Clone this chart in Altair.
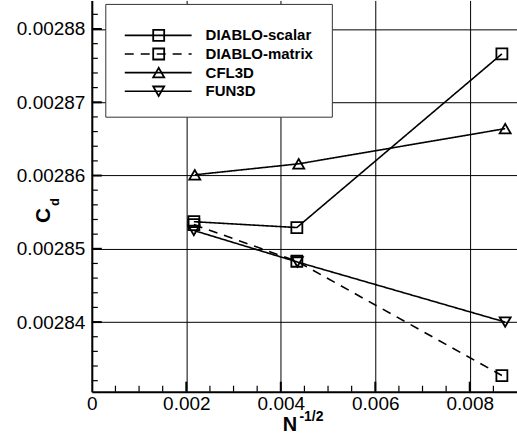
import altair as alt
import pandas as pd

# ---------------- data ----------------
series = ["DIABLO-scalar", "DIABLO-matrix", "CFL3D", "FUN3D"]
legend_row = [0, 1, 2, 3]

x_scalar = [0.00216, 0.00434, 0.00868]
y_scalar = [0.0028537, 0.0028529, 0.0028766]

x_matrix = [0.00216, 0.00434, 0.00868]
y_matrix = [0.0028533, 0.0028483, 0.0028327]

x_cfl3d = [0.00218, 0.00438, 0.00875]
y_cfl3d = [0.0028601, 0.0028616, 0.0028664]

x_fun3d = [0.00216, 0.00435, 0.00875]
y_fun3d = [0.0028525, 0.0028482, 0.0028400]

x_major = [0.0, 0.002, 0.004, 0.006, 0.008]
y_major = [0.00284, 0.00285, 0.00286, 0.00287, 0.00288]
x_minor = [0.0005, 0.001, 0.0015, 0.0025, 0.003, 0.0035, 0.0045, 0.005, 0.0055,
           0.0065, 0.007, 0.0075, 0.0085]
y_minor = [0.002832, 0.002834, 0.002836, 0.002838,
           0.002842, 0.002844, 0.002846, 0.002848,
           0.002852, 0.002854, 0.002856, 0.002858,
           0.002862, 0.002864, 0.002866, 0.002868,
           0.002872, 0.002874, 0.002876, 0.002878,
           0.002882]

rows = []
for name, xs, ys in [("DIABLO-scalar", x_scalar, y_scalar),
                     ("DIABLO-matrix", x_matrix, y_matrix),
                     ("CFL3D", x_cfl3d, y_cfl3d),
                     ("FUN3D", x_fun3d, y_fun3d)]:
    for i, (xv, yv) in enumerate(zip(xs, ys)):
        rows.append({"series": name, "x": xv, "y": yv, "i": i})
df = pd.DataFrame(rows)

# ---------------- scales / axes ----------------
FONT = "Liberation Sans"
W, H = 426, 392
xs_ = alt.Scale(domain=[0, 0.009], nice=False, zero=False)
ys_ = alt.Scale(domain=[0.0028305, 0.0028839], nice=False, zero=False)

xax = alt.Axis(values=x_major, labelExpr="datum.value == 0 ? '0' : format(datum.value, '.3f')",
               grid=True, gridColor="black", gridWidth=1, gridOpacity=1,
               domainColor="black", domainWidth=2, ticks=False, tickSize=0,
               labelFont=FONT, labelFontSize=19, labelColor="black", labelPadding=3,
               labelFlush=False, labelOverlap=False, title=None)
yax = alt.Axis(values=y_major, format=".5f",
               grid=True, gridColor="black", gridWidth=1, gridOpacity=1,
               domainColor="black", domainWidth=2, ticks=False, tickSize=0,
               labelFont=FONT, labelFontSize=19, labelColor="black", labelPadding=7,
               labelFlush=False, labelOverlap=False, title=None)

X = alt.X("x:Q", scale=xs_, axis=xax)
Y = alt.Y("y:Q", scale=ys_, axis=yax)

shape_sc = alt.Scale(domain=series, range=["square", "square", "triangle-up", "triangle-down"])
dash_sc = alt.Scale(domain=series, range=[[1, 0], [9, 7], [1, 0], [1, 0]])
size_sc = alt.Scale(domain=series, range=[121, 121, 150, 150])

lines = alt.Chart(df).mark_line(color="black", strokeWidth=1.6).encode(
    x=X, y=Y, order="i:Q",
    detail="series:N",
    strokeDash=alt.StrokeDash("series:N", scale=dash_sc, legend=None),
)
points = alt.Chart(df).mark_point(filled=False, color="black", strokeWidth=1.8, opacity=1).encode(
    x=X, y=Y,
    shape=alt.Shape("series:N", scale=shape_sc, legend=None),
    size=alt.Size("series:N", scale=size_sc, legend=None),
)

# minor / major ticks pointing inward
xminor_df = pd.DataFrame({"x": x_minor})
xmajor_df = pd.DataFrame({"x": x_major[1:]})
yminor_df = pd.DataFrame({"y": y_minor})
ymajor_df = pd.DataFrame({"y": y_major})

xminor = alt.Chart(xminor_df).mark_rule(color="black", strokeWidth=1.2).encode(
    x=X, y=alt.value(H), y2=alt.value(H - 6))
xmajor = alt.Chart(xmajor_df).mark_rule(color="black", strokeWidth=2).encode(
    x=X, y=alt.value(H), y2=alt.value(H - 10))
yminor = alt.Chart(yminor_df).mark_rule(color="black", strokeWidth=1.2).encode(
    y=Y, x=alt.value(0), x2=alt.value(6))
ymajor = alt.Chart(ymajor_df).mark_rule(color="black", strokeWidth=2).encode(
    y=Y, x=alt.value(0), x2=alt.value(10))

data_group = alt.layer(xminor, xmajor, yminor, ymajor, lines, points)

# ---------------- legend (manual) ----------------
leg_df = pd.DataFrame({"series": series, "row": legend_row})
leg_y = alt.Y("row:Q", scale=alt.Scale(domain=[0, 3], range=[35, 91], nice=False, zero=False),
              axis=None)

box = alt.Chart(pd.DataFrame({"a": [0]})).mark_rect(
    fill="white", stroke="#333333", strokeWidth=1).encode(
    x=alt.value(14), x2=alt.value(241), y=alt.value(4), y2=alt.value(117))
leg_lines = alt.Chart(leg_df).mark_rule(color="black", strokeWidth=1.6).encode(
    x=alt.value(33), x2=alt.value(100), y=leg_y,
    strokeDash=alt.StrokeDash("series:N", scale=dash_sc, legend=None))
leg_pts = alt.Chart(leg_df).mark_point(filled=False, color="black", strokeWidth=1.8, opacity=1).encode(
    x=alt.value(67), y=leg_y,
    shape=alt.Shape("series:N", scale=shape_sc, legend=None),
    size=alt.Size("series:N", scale=size_sc, legend=None))
leg_txt = alt.Chart(leg_df).mark_text(
    align="left", baseline="middle", font=FONT, fontSize=15, fontWeight="bold", color="black").encode(
    x=alt.value(114), y=leg_y, text="series:N")

legend_group = alt.layer(box, leg_lines, leg_pts, leg_txt)

# ---------------- axis titles ----------------
t_c = alt.Chart(pd.DataFrame({"t": ["C"]})).mark_text(
    align="center", baseline="alphabetic", angle=270, font=FONT, fontSize=21,
    fontWeight="bold", color="black").encode(x=alt.value(-42), y=alt.value(215.5), text="t:N")
t_d = alt.Chart(pd.DataFrame({"t": ["d"]})).mark_text(
    align="center", baseline="alphabetic", angle=270, font=FONT, fontSize=13,
    fontWeight="bold", color="black").encode(x=alt.value(-32.7), y=alt.value(202), text="t:N")
t_n = alt.Chart(pd.DataFrame({"t": ["N"]})).mark_text(
    align="center", baseline="alphabetic", font=FONT, fontSize=20,
    fontWeight="bold", color="black").encode(x=alt.value(198.5), y=alt.value(431), text="t:N")
t_sup = alt.Chart(pd.DataFrame({"t": ["-1/2"]})).mark_text(
    align="left", baseline="alphabetic", font=FONT, fontSize=14,
    fontWeight="bold", color="black").encode(x=alt.value(208), y=alt.value(421), text="t:N")

chart = alt.layer(data_group, legend_group, t_c, t_d, t_n, t_sup).resolve_scale(
    y="independent"
).properties(
    width=W, height=H,
    autosize=alt.AutoSizeParams(type="none"),
    padding={"left": 92, "top": 0, "right": 0, "bottom": 50},
    background="white",
).configure_view(stroke=None)

chart.save("out.html", embed_options={"renderer": "svg", "actions": False})
